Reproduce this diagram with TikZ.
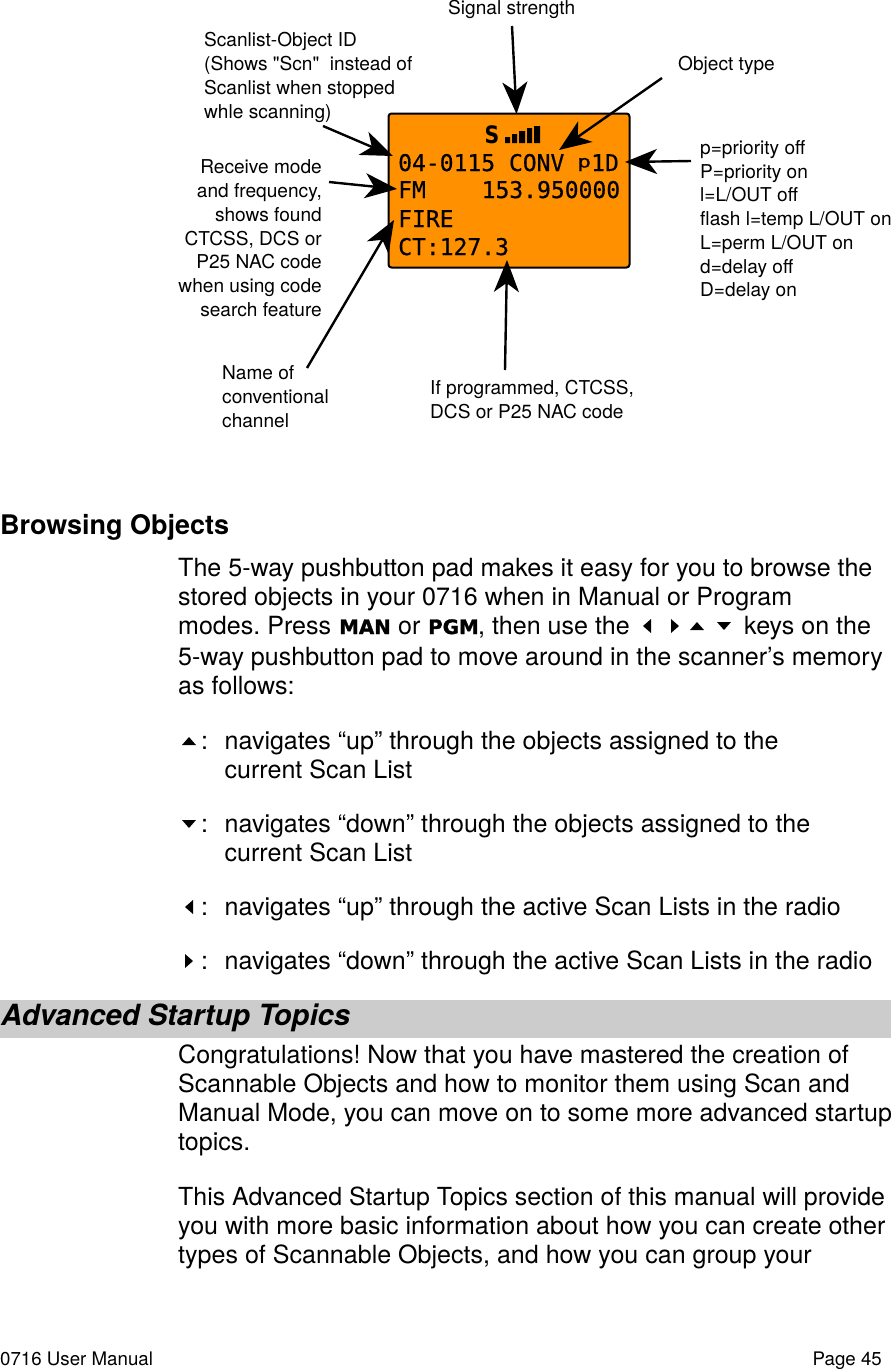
\documentclass[tikz,border=0pt]{standalone}
\usepackage{fontspec}
\setmainfont{TeX Gyre Heros}
\newfontfamily\rawq{TeX Gyre Heros}
\newfontfamily\lcdfont[FakeBold=0.5]{DejaVu Sans Mono}
\newfontfamily\heavyfont[FakeBold=1.6]{DejaVu Sans}
\newfontfamily\signfont{DejaVu Sans}
\usetikzlibrary{arrows.meta}
\definecolor{lcdorange}{HTML}{FF9000}
\definecolor{bandgrey}{HTML}{CCCCCC}
\tikzset{
  body/.style={anchor=base west,inner sep=0pt,font=\frenchspacing\fontsize{25.05}{29}\selectfont},
  head/.style={anchor=base west,inner sep=0pt,font=\fontsize{27}{29}\selectfont\bfseries},
  call/.style={anchor=base west,inner sep=0pt,font=\frenchspacing\fontsize{19.1}{24}\selectfont},
  callr/.style={call,anchor=base east},
  foot/.style={anchor=base west,inner sep=0pt,font=\fontsize{18.7}{22}\selectfont},
  lcd/.style={anchor=base west,inner sep=0pt,font=\fontsize{23}{26}\selectfont\lcdfont},
  keyw/.style={anchor=base west,inner sep=0pt,font=\fontsize{19.8}{24}\selectfont\heavyfont\bfseries},
  tri/.style={fill=black,draw=none},
  pointer/.style={line width=2.4pt,-{Stealth[length=32pt,width=25pt,inset=9pt]}},
}
\newcommand{\triup}[2]{\fill[tri] (#1-7,#2+4) -- (#1+7,#2+4) -- (#1,#2-4) -- cycle;}
\newcommand{\tridn}[2]{\fill[tri] (#1-7,#2-4) -- (#1+7,#2-4) -- (#1,#2+4) -- cycle;}
\newcommand{\trilf}[2]{\fill[tri] (#1+4,#2-7) -- (#1+4,#2+7) -- (#1-4,#2) -- cycle;}
\newcommand{\trirt}[2]{\fill[tri] (#1-4,#2-7) -- (#1-4,#2+7) -- (#1+4,#2) -- cycle;}
\begin{document}
\begin{tikzpicture}[x=1pt,y=-1pt]
\useasboundingbox (0,0) rectangle (891,1369);
\fill[white] (0,0) rectangle (891,1369);
% LCD
\node[draw=black,line width=2pt,rounded corners=3pt,fill=lcdorange,minimum width=241pt,minimum height=154pt,inner sep=0pt] (display) at (509,190.5) {};
\node[anchor=base west,inner sep=0pt,xscale=0.85,font=\fontsize{24}{24}\selectfont\signfont\bfseries] (lcdS) at (484.5,143) {S};
\fill (505,137) rectangle (510,143) (512,134) rectangle (517,143) (519,131) rectangle (525,143) (527,128) rectangle (532,143) (534,126) rectangle (540,143);
\node[lcd] (lcdA) at (398,171) {04-0115 CONV};
\node[anchor=base west,inner sep=0pt,xscale=1.35,font=\fontsize{17}{17}\selectfont\lcdfont] (lcdp) at (577,167.5) {p};
\node[lcd] (lcdB) at (591,171) {1D};
\node[lcd] (lcdC) at (398,198) {FM};
\node[lcd] (lcdD) at (481.5,198) {153.950000};
\node[lcd] (lcdE) at (398,227) {FIRE};
\node[lcd] (lcdF) at (398,255) {CT:127.3};
% callouts
\node[call] (sig) at (448,14) {Signal strength};
\node[call] (obj) at (678,70) {Object type};
\node[call] (sc1) at (204,46) {Scanlist-Object ID};
\node[call] (sc2) at (204,70) {(Shows {\rawq"}Scn{\rawq"}\ \ instead of};
\node[call] (sc3) at (204,94) {Scanlist when stopped};
\node[call] (sc4) at (204,118) {whle scanning)};
\node[callr] (rx1) at (322,173) {Receive mode};
\node[callr] (rx2) at (322,197) {and frequency,};
\node[callr] (rx3) at (322,221) {shows found};
\node[callr] (rx4) at (322,245) {CTCSS, DCS or};
\node[callr] (rx5) at (322,268) {P25 NAC code};
\node[callr] (rx6) at (322,292) {when using code};
\node[callr] (rx7) at (322,316) {search feature};
\node[call] (fl1) at (700,154) {p=priority off};
\node[call] (fl2) at (700,178) {P=priority on};
\node[call] (fl3) at (700,201) {l=L/OUT off};
\node[call] (fl4) at (700,225) {flash l=temp L/OUT on};
\node[call] (fl5) at (700,249) {L=perm L/OUT on};
\node[call] (fl6) at (700,273) {d=delay off};
\node[call] (fl7) at (700,296) {D=delay on};
\node[call] (nm1) at (222,379) {Name of};
\node[call] (nm2) at (222,403) {conventional};
\node[call] (nm3) at (222,427) {channel};
\node[call] (pg1) at (430,394) {If programmed, CTCSS,};
\node[call] (pg2) at (430,418) {DCS or P25 NAC code};
% pointers
\coordinate (sigA) at (512,26);  \coordinate (sigB) at (516.5,114);
\coordinate (objA) at (662,78);  \coordinate (objB) at (559,150);
\coordinate (flA) at (691,161);  \coordinate (flB) at (625,162);
\coordinate (scA) at (323,126);  \coordinate (scB) at (393,156);
\coordinate (rxA) at (329,182);  \coordinate (rxB) at (397,189);
\coordinate (nmA) at (307,368);  \coordinate (nmB) at (394,220);
\coordinate (pgA) at (505,370);  \coordinate (pgB) at (507,260);
\draw[pointer] (sigA) -- (sigB);
\draw[pointer] (objA) -- (objB);
\draw[pointer] (flA) -- (flB);
\draw[pointer] (scA) -- (scB);
\draw[pointer] (rxA) -- (rxB);
\draw[pointer] (nmA) -- (nmB);
\draw[pointer] (pgA) -- (pgB);
% text
\node[head] (h1) at (0,534) {Browsing Objects};
\node[body] (b1) at (178,576) {The 5-way pushbutton pad makes it easy for you to browse the};
\node[body] (b2) at (178,605) {stored objects in your 0716 when in Manual or Program};
\node[body] (b3a) at (178,634) {modes. Press};
\node[keyw] (kman) at (339,634) {MAN};
\node[body] (b3b) at (398,634) {or};
\node[keyw] (kpgm) at (428,634) {PGM};
\node[body] (b3c) at (478,634) {, then use the};
\trilf{647}{626}\trirt{675}{626}\triup{697}{626}\tridn{724}{626}
\node[body] (b3d) at (744,634) {keys on the};
\node[body] (b4) at (178,665) {5-way pushbutton pad to move around in the scanner’s memory};
\node[body] (b5) at (178,694) {as follows:};
\triup{189}{741}
\node[body] (c1) at (201,749) {:};
\node[body] (t1) at (224.5,749) {navigates “up” through the objects assigned to the};
\node[body] (t2) at (224.5,778) {current Scan List};
\tridn{189}{824}
\node[body] (c2) at (201,832) {:};
\node[body] (t3) at (224.5,832) {navigates “down” through the objects assigned to the};
\node[body] (t4) at (224.5,861) {current Scan List};
\trilf{189}{907}
\node[body] (c3) at (201,915) {:};
\node[body] (t5) at (224.5,915) {navigates “up” through the active Scan Lists in the radio};
\trirt{189}{961}
\node[body] (c4) at (201,969) {:};
\node[body] (t6) at (224.5,969) {navigates “down” through the active Scan Lists in the radio};
\fill[bandgrey] (0,1000) rectangle (891,1038);
\node[anchor=base west,inner sep=0pt,font=\fontsize{29.2}{32}\selectfont\bfseries\itshape] (h2) at (1,1025) {Advanced Startup Topics};
\node[body] (p1) at (178,1063) {Congratulations! Now that you have mastered the creation of};
\node[body] (p2) at (178,1092) {Scannable Objects and how to monitor them using Scan and};
\node[body] (p3) at (178,1121) {Manual Mode, you can move on to some more advanced startup};
\node[body] (p4) at (178,1150) {topics.};
\node[body,font=\frenchspacing\fontsize{24.9}{29}\selectfont] (p5) at (178,1205) {This Advanced Startup Topics section of this manual will provide};
\node[body] (p6) at (178,1234) {you with more basic information about how you can create other};
\node[body] (p7) at (178,1263) {types of Scannable Objects, and how you can group your};
\node[foot] (f1) at (0,1365) {0716 User Manual};
\node[foot,anchor=base east] (f2) at (882,1365) {Page 45};
\end{tikzpicture}
\end{document}
